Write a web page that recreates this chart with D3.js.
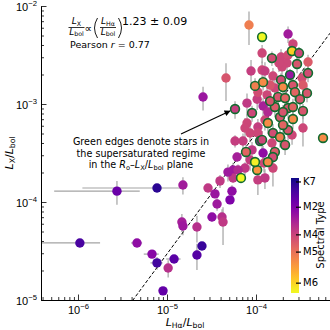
<!DOCTYPE html>
<html>
<head>
<meta charset="utf-8">
<script src="https://cdn.jsdelivr.net/npm/d3@7"></script>
<style>
  body { margin: 0; background: #fff; }
  svg { display: block; font-family: "DejaVu Sans", sans-serif; }
</style>
</head>
<body>
<svg id="chart" width="330" height="330"></svg>
<script>
// L_Halpha/L_bol per star
var lhaVals = [
  2.74e-6, 7.72e-6, 1.05e-6, 4.6e-6, 6.78e-6, 7.72e-6, 9.02e-6, 1.03e-5, 1.2e-5, 2.17e-5,
  2.47e-5, 1.51e-5, 2.89e-5, 3.94e-5, 3.46e-5, 5.37e-5, 5.1e-5, 3.65e-5, 3.2e-5, 4.15e-5,
  4.26e-5, 1.47e-5, 1.51e-5, 2.17e-5, 5.52e-5, 7.52e-5, 6.78e-5, 5.52e-5, 1.03e-4, 1.05e-4,
  1.55e-4, 9.75e-5, 5.81e-5, 7.14e-5, 8.57e-5, 1.11e-4, 6.12e-5, 1.23e-4, 6.28e-5, 4.84e-5,
  8.34e-5, 1.17e-4, 1.17e-4, 8.79e-5, 4.6e-5, 2.54e-5, 7.92e-5, 9.75e-5, 1.2e-4, 1.03e-4,
  1.2e-4, 9.02e-5, 1.17e-4, 5.81e-5, 2.29e-4, 2.6e-4, 2.54e-4, 3.04e-4, 1.51e-4, 1.91e-4,
  2.29e-4, 2.23e-4, 2.89e-4, 3.84e-4, 3.84e-4, 2.41e-4, 1.91e-4, 3.29e-4, 1.55e-4, 3.37e-4,
  2.01e-4, 2.6e-4, 1.63e-4, 1.33e-4, 1.77e-4, 2.12e-4, 2.74e-4, 3.12e-4, 3.74e-4, 1.63e-4,
  2.29e-4, 2.6e-4, 3.37e-4, 1.26e-4, 1.96e-4, 3.37e-4, 2.6e-4, 1.86e-4, 1.36e-4, 2.29e-4,
  1.55e-4, 1.86e-4, 1.17e-4, 1.51e-4, 1.2e-4, 1.63e-4, 1.55e-4, 1.36e-4, 5.66e-4, 1.05e-4,
  1.26e-4, 1.05e-4, 7.92e-5, 9.02e-5, 2.01e-4, 1.36e-4, 1.05e-4, 1.44e-4, 7.52e-5, 2.12e-4,
  2.54e-4, 8.57e-5, 7.72e-5, 1.26e-4, 2.01e-4, 1.44e-4, 1.81e-4
];
// L_X/L_bol per star
var lxVals = [
  1.29e-4, 1.39e-4, 3.82e-5, 3.82e-5, 2.94e-5, 2.39e-5, 1.24e-5, 2.12e-5, 2.62e-5, 2.88e-5,
  3.56e-5, 1.49e-4, 1.39e-4, 1.64e-4, 1.21e-4, 1.29e-4, 1.05e-4, 9.55e-5, 7.03e-5, 7.03e-5,
  6.25e-5, 6.25e-5, 5.69e-5, 5.56e-5, 2.12e-4, 2.22e-4, 1.76e-4, 1.76e-4, 2.12e-4, 1.68e-4,
  2.22e-4, 2.56e-4, 4.19e-4, 4.19e-4, 5.06e-4, 4.19e-4, 2.88e-4, 2.5e-4, 2.12e-4, 2.02e-4,
  6.4e-3, 4.83e-3, 3.31e-3, 2.17e-3, 1.84e-3, 1.18e-3, 1.02e-3, 1.53e-3, 1.67e-3, 1.12e-3,
  9.55e-4, 8.09e-4, 2.22e-3, 8.89e-4, 5.18e-3, 4.1e-3, 3.47e-3, 3.31e-3, 2.94e-3, 3.02e-3,
  3.16e-3, 2.62e-3, 2.56e-3, 2.68e-3, 2.07e-3, 1.98e-3, 1.76e-3, 1.84e-3, 1.93e-3, 1.56e-3,
  1.49e-3, 1.56e-3, 1.46e-3, 1.24e-3, 1.18e-3, 1.15e-3, 1.32e-3, 1.12e-3, 1.29e-3, 9.32e-4,
  9.1e-4, 9.32e-4, 8.49e-4, 2.17e-3, 2.39e-3, 5.69e-4, 7.03e-4, 7.36e-4, 6.4e-4, 5.43e-4,
  5.06e-4, 4.6e-4, 4.3e-4, 4e-4, 3.16e-4, 3.24e-4, 2.88e-4, 2.56e-4, 4.5e-4, 5.82e-4,
  6.87e-4, 5.06e-4, 6.4e-4, 3.4e-4, 8.28e-4, 8.28e-4, 1.32e-3, 1.56e-3, 5.69e-4, 3.82e-4,
  4.83e-4, 2.68e-4, 3.24e-4, 1.76e-4, 6.11e-4, 1.07e-3, 2.62e-3
];
// spectral type as position along the colour bar (0 = top, 1 = bottom)
var sptVals = [
  .20, .05, .12, .30, .28, .10, .18, .42, .16, .15,
  .08, .35, .45, .45, .33, .30, .25, .34, .30, .42,
  .45, .36, .34, .42, .34, .45, 1.0, .45, .75, .47,
  .50, .98, .47, .47, .50, .34, .36, .50, .40, .34,
  .68, 1.0, .50, .47, .55, .33, .45, .68, .72, .47,
  .37, .50, .50, .47, .35, .50, .90, .50, .52, .50,
  .52, .50, .55, .57, .52, .33, .52, .52, .50, .57,
  .72, .55, .50, .50, .55, .60, .60, .55, .55, .57,
  .55, .60, .55, .47, .50, .50, .72, .55, .72, .55,
  .52, .68, .50, .50, .30, .57, .52, .72, .72, .47,
  .50, .50, .50, .45, .55, .40, .52, .55, .50, .55,
  .50, .47, .60, .45, .60, .55, .50
];
// 1 = supersaturated in the Ro-Lx/Lbol plane (green edge)
var supersat = [
  0, 0, 0, 0, 0, 0, 0, 0, 0, 0,
  0, 0, 0, 0, 0, 0, 0, 0, 0, 0,
  0, 0, 0, 0, 0, 0, 1, 0, 1, 0,
  0, 1, 0, 0, 0, 1, 0, 0, 0, 0,
  0, 1, 0, 0, 0, 0, 0, 1, 1, 0,
  0, 1, 0, 1, 0, 0, 1, 1, 1, 0,
  0, 0, 1, 0, 1, 1, 1, 0, 0, 0,
  1, 1, 0, 0, 1, 1, 1, 1, 1, 1,
  1, 1, 1, 0, 0, 0, 1, 1, 1, 1,
  1, 1, 1, 0, 0, 1, 1, 1, 1, 0,
  0, 0, 0, 0, 1, 0, 0, 0, 0, 1,
  0, 0, 1, 0, 1, 1, 0
];
// 1-sigma errors on L_X/L_bol
var lxErr = [
  3.5e-5, 7e-6, 2e-6, 2e-6, 1.5e-6, 3.6e-6, 0, 4.2e-6, 1.3e-6, 8.6e-6,
  0, 3e-5, 7e-6, 2.5e-5, 1.2e-5, 1.9e-5, 1e-5, 1.4e-5, 7e-6, 1.4e-5,
  2.6e-5, 1.3e-5, 1.1e-5, 1.7e-5, 4e-5, 3.3e-5, 0, 1.8e-5, 0, 5e-5,
  7.8e-5, 0, 6e-5, 8e-5, 1e-4, 0, 3e-5, 5e-5, 3e-5, 4e-5,
  2.4e-3, 0, 7e-4, 6.5e-4, 7.7e-4, 3.2e-4, 2.6e-4, 3e-4, 3e-4, 2.5e-4,
  2e-4, 1.5e-4, 5e-4, 1.8e-4, 1e-3, 6e-4, 0, 5e-4, 5e-4, 6e-4,
  6e-4, 5e-4, 5e-4, 5e-4, 4e-4, 3e-4, 3e-4, 3e-4, 4e-4, 3e-4,
  2.5e-4, 3e-4, 3e-4, 3e-4, 2.5e-4, 2e-4, 2.5e-4, 2e-4, 2.5e-4, 2e-4,
  2e-4, 2e-4, 1.5e-4, 5e-4, 5e-4, 2e-4, 1.5e-4, 1.5e-4, 1.5e-4, 1.2e-4,
  1.2e-4, 1e-4, 1e-4, 1e-4, 6e-5, 6e-5, 5e-5, 0, 0, 1.2e-4,
  1.5e-4, 1e-4, 1.5e-4, 7e-5, 1.5e-4, 1.5e-4, 3e-4, 3e-4, 1.5e-4, 8e-5,
  1e-4, 6e-5, 6e-5, 4e-5, 1.2e-4, 2e-4, 5e-4
];
// 1-sigma errors on L_Halpha/L_bol (only the faint stars have visible ones)
var lhaErr = [
  2.2e-6, 6.6e-6, 7.2e-7, 6.5e-7, 1.3e-6, 1.2e-6, 0, 0, 2.2e-6
];

var xLim = [3.84e-7, 6.78e-4];
var yLim = [1e-5, 1e-2];
var sptTickLabels = ["K7", "M2", "M4", "M5", "M6"];
var sptTickVals = [0.03, 0.25, 0.49, 0.64, 0.91];
var fitSlope = 1.23;
var fitNorm = 41.7;

var svg = d3.select("#chart");
svg.append("rect").attr("width", 330).attr("height", 330).attr("fill", "#fff");

var x = d3.scaleLog().domain(xLim).range([41, 330]);
var y = d3.scaleLog().domain(yLim).range([300, 6]);
var cb = d3.scaleLinear().domain([0, 1]).range([178, 293]);
var edgeGreen = "#126b2f";

svg.append("clipPath").attr("id", "plotclip")
  .append("rect").attr("x", 41).attr("y", 6).attr("width", 289).attr("height", 294);

function isMajor(v) {
  var l = Math.log10(v);
  return Math.abs(l - Math.round(l)) < 1e-6;
}

// superscripted power of ten, matplotlib style
function powLabel(sel, v, fs) {
  sel.append("tspan").text("10");
  sel.append("tspan").attr("dy", -fs * 0.42).style("font-size", (fs * 0.7) + "px")
    .text("\u2212" + Math.abs(Math.round(Math.log10(v))));
}

var pts = lhaVals.map(function(v, i) {
  return { lha: v, lx: lxVals[i], spt: sptVals[i], edge: supersat[i],
           ey: lxErr[i] || 0, ex: lhaErr[i] || 0 };
});

// fit line
var fitLine = d3.line().x(function(d) { return x(d); }).y(function(d) { return y(fitNorm * Math.pow(d, fitSlope)); });
var plot = svg.append("g").attr("clip-path", "url(#plotclip)");

// error bars
plot.append("g").selectAll("line.ey").data(pts.filter(function(d) { return d.ey > 0; }))
  .enter().append("line")
  .attr("x1", function(d) { return x(d.lha); }).attr("x2", function(d) { return x(d.lha); })
  .attr("y1", function(d) { return y(Math.max(d.lx - d.ey, 1e-8)); })
  .attr("y2", function(d) { return y(d.lx + d.ey); })
  .attr("stroke", "#a3a3a3").attr("stroke-width", 1.2);
plot.append("g").selectAll("line.ex").data(pts.filter(function(d) { return d.ex > 0; }))
  .enter().append("line")
  .attr("y1", function(d) { return y(d.lx); }).attr("y2", function(d) { return y(d.lx); })
  .attr("x1", function(d) { return x(Math.max(d.lha - d.ex, 1e-9)); })
  .attr("x2", function(d) { return x(d.lha + d.ex); })
  .attr("stroke", "#a3a3a3").attr("stroke-width", 1.2);

plot.append("path").datum(xLim).attr("d", fitLine)
  .attr("fill", "none").attr("stroke", "#000").attr("stroke-width", 1).attr("stroke-dasharray", "3.5,2");

// points: plain ones first, supersaturated on top
var ordered = pts.filter(function(d) { return !d.edge; }).concat(pts.filter(function(d) { return d.edge; }));
svg.append("g").selectAll("circle").data(ordered).enter().append("circle")
  .attr("cx", function(d) { return x(d.lha); })
  .attr("cy", function(d) { return y(d.lx); })
  .attr("r", function(d) { return d.edge ? 4.4 : 4.7; })
  .attr("fill", function(d) { return d3.interpolatePlasma(d.spt); })
  .attr("stroke", function(d) { return d.edge ? edgeGreen : "none"; })
  .attr("stroke-width", 1.6);

// axes
var gx = svg.append("g").attr("transform", "translate(0,300)")
  .call(d3.axisBottom(x).tickValues(x.ticks()).tickFormat("").tickSizeOuter(0));
gx.select(".domain").attr("stroke", "#000").attr("stroke-width", 1);
gx.selectAll(".tick line").attr("stroke", "#000").attr("stroke-width", 0.8)
  .attr("y2", function(d) { return isMajor(d) ? -5.5 : -3; });
gx.selectAll(".tick text").remove();
gx.selectAll(".tick").filter(isMajor).append("text")
  .attr("y", 13.5).attr("text-anchor", "middle").attr("fill", "#000")
  .style("font-size", "11px").each(function(d) { powLabel(d3.select(this), d, 11); });

var gy = svg.append("g").attr("transform", "translate(41,0)")
  .call(d3.axisLeft(y).tickValues(y.ticks()).tickFormat("").tickSizeOuter(0));
gy.select(".domain").attr("stroke", "#000").attr("stroke-width", 1);
gy.selectAll(".tick line").attr("stroke", "#000").attr("stroke-width", 0.8)
  .attr("x2", function(d) { return isMajor(d) ? 5.5 : 3; });
gy.selectAll(".tick text").remove();
gy.selectAll(".tick").filter(isMajor).append("text")
  .attr("x", -4).attr("y", 4).attr("text-anchor", "end").attr("fill", "#000")
  .style("font-size", "11px").each(function(d) { powLabel(d3.select(this), d, 11); });

// axis labels
function lumLabel(sel, sub, fs) {
  sel.append("tspan").style("font-style", "italic").text("L");
  sel.append("tspan").attr("dy", fs * 0.2).style("font-size", (fs * 0.7) + "px").text(sub);
  sel.append("tspan").attr("dy", -fs * 0.2).text("/");
  sel.append("tspan").style("font-style", "italic").text("L");
  sel.append("tspan").attr("dy", fs * 0.2).style("font-size", (fs * 0.7) + "px").text("bol");
}
svg.append("text").attr("x", 185).attr("y", 325.5).attr("text-anchor", "middle")
  .style("font-size", "11px").call(lumLabel, "H\u03b1", 11);
svg.append("text").attr("transform", "translate(12.5,153) rotate(-90)").attr("text-anchor", "middle")
  .style("font-size", "11px").call(lumLabel, "X", 11);

// formula block
function frac(cx, sub, fs) {
  var g = svg.append("g");
  var num = g.append("text").attr("x", cx).attr("y", 24).attr("text-anchor", "middle").style("font-size", fs + "px");
  num.append("tspan").style("font-style", "italic").text("L");
  num.append("tspan").attr("dy", fs * 0.2).style("font-size", (fs * 0.7) + "px").text(sub);
  var den = g.append("text").attr("x", cx).attr("y", 34.5).attr("text-anchor", "middle").style("font-size", fs + "px");
  den.append("tspan").style("font-style", "italic").text("L");
  den.append("tspan").attr("dy", fs * 0.2).style("font-size", (fs * 0.7) + "px").text("bol");
  g.append("line").attr("x1", cx - 8).attr("x2", cx + 8).attr("y1", 27.5).attr("y2", 27.5)
    .attr("stroke", "#000").attr("stroke-width", 0.8);
}
frac(76.5, "X", 9);
svg.append("text").attr("x", 84.5).attr("y", 31.5).style("font-size", "10.5px").text("\u221d");
svg.append("path").attr("d", "M97.5,18 Q91.5,28 97.5,38").attr("fill", "none").attr("stroke", "#000").attr("stroke-width", 0.9);
frac(108, "H\u03b1", 9);
svg.append("path").attr("d", "M118.5,18 Q124.5,28 118.5,38").attr("fill", "none").attr("stroke", "#000").attr("stroke-width", 0.9);
svg.append("text").attr("x", 122).attr("y", 25).style("font-size", "11px").text("1.23 \u00b1 0.09");
var pear = svg.append("text").attr("x", 70).attr("y", 48).style("font-size", "9.5px");
pear.append("tspan").text("Pearson ");
pear.append("tspan").style("font-style", "italic").text("r");
pear.append("tspan").text(" = 0.77");

// arrow annotation
svg.append("defs").append("marker").attr("id", "arrowhead")
  .attr("viewBox", "0 0 10 10").attr("refX", 9).attr("refY", 5)
  .attr("markerWidth", 7).attr("markerHeight", 6).attr("orient", "auto")
  .attr("markerUnits", "userSpaceOnUse")
  .append("path").attr("d", "M0,0L10,5L0,10z").attr("fill", "#000");
svg.append("line").attr("x1", 181).attr("y1", 134).attr("x2", 230).attr("y2", 111)
  .attr("stroke", "#000").attr("stroke-width", 1.2).attr("marker-end", "url(#arrowhead)");

var note = svg.append("g").style("font-size", "9.6px").attr("text-anchor", "middle");
note.append("text").attr("x", 141).attr("y", 145).text("Green edges denote stars in");
note.append("text").attr("x", 141).attr("y", 156.5).text("the supersaturated regime");
var l3 = note.append("text").attr("x", 141).attr("y", 168);
l3.append("tspan").text("in the ");
l3.append("tspan").style("font-style", "italic").text("R");
l3.append("tspan").attr("dy", 2).style("font-size", "6.7px").text("o");
l3.append("tspan").attr("dy", -2).text("\u2013");
l3.append("tspan").style("font-style", "italic").text("L");
l3.append("tspan").attr("dy", 2).style("font-size", "6.7px").text("X");
l3.append("tspan").attr("dy", -2).text("/");
l3.append("tspan").style("font-style", "italic").text("L");
l3.append("tspan").attr("dy", 2).style("font-size", "6.7px").text("bol");
l3.append("tspan").attr("dy", -2).text(" plane");

// colour bar
var grad = svg.select("defs").append("linearGradient").attr("id", "plasma")
  .attr("x1", 0).attr("y1", 0).attr("x2", 0).attr("y2", 1);
d3.range(0, 1.0001, 0.05).forEach(function(t) {
  grad.append("stop").attr("offset", t).attr("stop-color", d3.interpolatePlasma(t));
});
svg.append("rect").attr("x", 291).attr("y", cb(0)).attr("width", 8).attr("height", cb(1) - cb(0))
  .attr("fill", "url(#plasma)");
var gcb = svg.append("g").attr("transform", "translate(299,0)")
  .call(d3.axisRight(cb).tickValues(sptTickVals).tickFormat(function(d, i) { return sptTickLabels[i]; })
    .tickSizeOuter(0).tickPadding(3));
gcb.select(".domain").remove();
gcb.selectAll(".tick line").attr("x1", -3).attr("x2", 2).attr("stroke", "#000").attr("stroke-width", 1.2);
gcb.selectAll(".tick text").attr("x", 4).style("font-size", "10px").style("font-family", "DejaVu Sans").attr("fill", "#000");
svg.append("text").attr("transform", "translate(324,235) rotate(-90)").attr("text-anchor", "middle")
  .style("font-size", "10px").text("Spectral Type");
</script>
</body>
</html>
